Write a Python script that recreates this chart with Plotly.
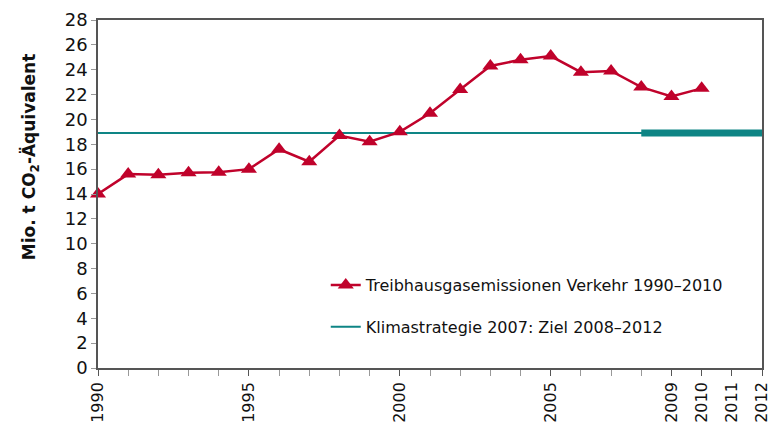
import plotly.graph_objects as go

years = list(range(1990, 2011))
emissions = [14.0, 15.6, 15.55, 15.7, 15.75, 16.0, 17.6, 16.6, 18.7, 18.2, 19.0,
             20.5, 22.4, 24.3, 24.8, 25.1, 23.8, 23.9, 22.6, 21.85, 22.5]
target_years_full = [1990, 2012]
target_years_period = [2008, 2012]
target_value = 18.9
x_tickvals = [1990, 1995, 2000, 2005, 2009, 2010, 2011, 2012]
x_ticktext = ["1990", "1995", "2000", "2005", "2009", "2010", "2011", "2012"]
y_tickvals = list(range(0, 29, 2))
y_title = "<b>Mio. t CO<sub>2</sub>-Äquivalent</b>"

red = "#C0022B"
teal = "#0E8585"
font_family = "DejaVu Sans, Liberation Sans, Arial, sans-serif"

fig = go.Figure()
fig.add_trace(go.Scatter(
    x=target_years_full, y=[target_value] * 2, mode="lines",
    line=dict(color=teal, width=2), name="Klimastrategie 2007: Ziel 2008–2012",
    legend="legend2"))
fig.add_trace(go.Scatter(
    x=target_years_period, y=[target_value] * 2, mode="lines",
    line=dict(color=teal, width=7), showlegend=False, cliponaxis=False))
fig.add_trace(go.Scatter(
    x=years, y=emissions, mode="lines+markers",
    line=dict(color=red, width=2.5),
    marker=dict(symbol="triangle-up", size=14, color=red),
    name="Treibhausgasemissionen Verkehr 1990–2010", cliponaxis=False,
    legend="legend"))

fig.add_annotation(
    text=y_title, textangle=-90, xref="paper", yref="paper",
    x=-0.1023, y=0.606, xanchor="center", yanchor="middle", showarrow=False,
    font=dict(size=17, color="#111"))

fig.update_layout(
    width=776, height=418,
    margin=dict(l=90, r=22, t=12, b=58, autoexpand=False),
    paper_bgcolor="white", plot_bgcolor="white",
    font=dict(family=font_family, color="#111"),
    legend=dict(x=0.343, y=0.2385, xanchor="left", yanchor="middle",
                font=dict(size=16), bgcolor="rgba(0,0,0,0)"),
    legend2=dict(x=0.343, y=0.118, xanchor="left", yanchor="middle",
                 font=dict(size=16), bgcolor="rgba(0,0,0,0)"),
    xaxis=dict(range=[1990, 2012], tickvals=x_tickvals, ticktext=x_ticktext,
               tickangle=-90, tickfont=dict(size=16), ticks="outside", ticklen=6,
               tickcolor="#555", showgrid=False, zeroline=False, automargin=False,
               ticklabeloverflow="allow",
               showline=True, linecolor="#555", linewidth=1.5, mirror=True,
               minor=dict(dtick=1, tick0=1990, ticks="outside", ticklen=6,
                          tickcolor="#999", showgrid=False)),
    yaxis=dict(range=[0, 28], tickvals=y_tickvals, tickfont=dict(size=18),
               ticks="outside", ticklen=5, tickcolor="#999", showgrid=False,
               zeroline=False, showline=True, linecolor="#555", linewidth=1.5,
               mirror=True, automargin=False),
)

fig.write_html("out.html")
